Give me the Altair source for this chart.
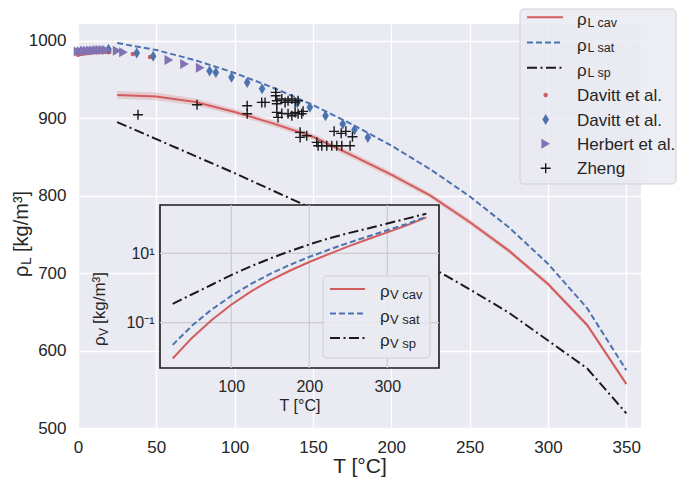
import altair as alt
import pandas as pd

FONT = "Liberation Sans"
TXT = "#262626"
BG = "#eaeaf2"
RED = "#d35c5c"
BLUE = "#4c72b0"
PURPLE = "#8172b3"
BLACK = "#1a1a1a"

# ---------------- data ----------------
T_L = [25, 50, 75, 100, 125, 150, 175, 200, 225, 250, 275, 300, 325, 350]
rhoL_cav = [930, 928, 921, 908, 893, 876, 852, 827, 800, 766, 729, 686, 633, 557]
rhoL_cav_lo = [925, 923, 916.5, 904, 889, 872, 848, 823, 796.5, 762.5, 726, 683, 630, 554]
rhoL_cav_hi = [935, 933, 925.5, 912, 897, 880, 856, 831, 803.5, 769.5, 732, 689, 636, 560]
rhoL_sat = [997.0, 988.0, 974.8, 958.4, 939.0, 917.0, 892.0, 864.7, 833.9, 799.1, 759.2, 712.1, 654.7, 574.7]
rhoL_sp = [895, 873, 851, 829, 806, 783, 759, 734, 708, 679, 649, 613, 577, 519]

davitt_dot_T = [0, 2, 4, 6, 8, 10, 12, 14, 16, 18, 20, 35, 46]
davitt_dot_rho = [982, 983, 983.5, 984, 984.5, 985, 985, 985.5, 985.5, 985.5, 985.5, 983, 979]

davitt_dia_T = [19.5, 37.5, 48, 84, 88, 98, 108, 117.5, 140, 148, 158, 169, 176.5, 185]
davitt_dia_rho = [989, 984, 980, 961, 959, 953, 946, 938, 920, 914, 903, 892.5, 885, 875]

herbert_T = [0, 2, 4, 6, 8, 10, 12, 14, 16, 18, 25, 29, 58, 68, 78]
herbert_rho = [986, 986.5, 987, 987, 987.5, 987.5, 988, 988, 988, 988, 987, 985, 975, 970, 965]

zheng_T = [38.3, 76, 108, 108, 117.3, 119.4, 126.2, 126.2, 126.9, 126.9, 130.1, 132.2, 134.1,
           136.5, 138.6, 140.5, 126.9, 127.7, 130.1, 134.1, 136.5, 138.6, 140.5, 142.8, 143.7,
           141.8, 141.8, 146, 152.4, 153.3, 155.6, 158.8, 162, 165.2, 168.4, 173.7, 163.5, 168,
           171, 175.2]
zheng_rho = [904.5, 917.4, 916, 905.8, 920.4, 920.4, 933.3, 929, 922.6, 918.7, 924.8, 920.4, 922.6,
             924.8, 920.4, 922.6, 907.5, 901, 906.2, 905.8, 903.2, 907.5, 905.8, 905.8, 908.8,
             881.7, 875.2, 877.4, 868.8, 864.5, 864.5, 864.5, 864.5, 864.5, 864.5, 864.5, 883, 880.4,
             883, 876.1]

T_V = [25, 50, 75, 100, 125, 150, 175, 200, 225, 250, 275, 300, 325, 350]
rhoV_cav = [0.0093, 0.037, 0.12, 0.33, 0.79, 1.66, 3.14, 5.6, 9.5, 15.8, 25.3, 40.2, 63.9, 108]
rhoV_sat = [0.023, 0.083, 0.24, 0.59, 1.30, 2.55, 4.62, 7.86, 12.7, 19.97, 30.5, 46.2, 70.2, 113.6]
rhoV_sp = [0.35, 0.66, 1.24, 2.36, 4.2, 7.1, 11.5, 18, 27, 38, 52, 72, 100, 138]

x_ticks = [0, 50, 100, 150, 200, 250, 300, 350]
y_ticks = [500, 600, 700, 800, 900, 1000]
inset_x_ticks = [100, 200, 300]
inset_y_ticks = [0.1, 10]

main_line_labels = [("ρ", "L cav"), ("ρ", "L sat"), ("ρ", "L sp")]
main_marker_labels = ["Davitt et al.", "Davitt et al.", "Herbert et al.", "Zheng"]
inset_line_labels = [("ρ", "V cav"), ("ρ", "V sat"), ("ρ", "V sp")]

# ---------------- layout / style ----------------
W, H = 563, 404
X_DOM = [0, 359.4]
Y_DOM = [500, 1021.6]
IX_DOM = [8.75, 366.25]
IY_DOM = [0.00495, 246.6]
IX_RANGE = [82, 361]
IY_RANGE = [344, 181]

DASH = [6, 3]
DASHDOT = [10, 3.5, 2, 3.5]
DIAMOND = "M0,-1L0.6,0L0,1L-0.6,0Z"
PLUS = "M-1,0L1,0M0,-1L0,1"

one = pd.DataFrame({"_": [0]})

x_main = alt.Scale(domain=X_DOM, nice=False, zero=False)
y_main = alt.Scale(domain=Y_DOM, nice=False, zero=False)
ax_common = dict(grid=True, gridColor="white", gridWidth=1.3, domain=False, ticks=False,
                 labelFont=FONT, labelFontSize=17, labelColor=TXT)
x_axis = alt.Axis(values=x_ticks, title="T [°C]", titleFont=FONT, titleFontSize=21,
                  titleFontWeight="normal", titleColor=TXT, titlePadding=0, labelPadding=11,
                  labelFlush=False, format="d", **ax_common)
y_axis = alt.Axis(values=y_ticks, title=None, labelPadding=12, format="d", **ax_common)


def MX(f):
    return alt.X(f"{f}:Q", scale=x_main, axis=x_axis)


def MY(f):
    return alt.Y(f"{f}:Q", scale=y_main, axis=y_axis)


df_L = pd.DataFrame({"T": T_L, "cav": rhoL_cav, "lo": rhoL_cav_lo, "hi": rhoL_cav_hi,
                     "sat": rhoL_sat, "sp": rhoL_sp})
df_dot = pd.DataFrame({"T": davitt_dot_T, "rho": davitt_dot_rho})
df_dia = pd.DataFrame({"T": davitt_dia_T, "rho": davitt_dia_rho})
df_her = pd.DataFrame({"T": herbert_T, "rho": herbert_rho})
df_zh = pd.DataFrame({"T": zheng_T, "rho": zheng_rho})

band = alt.Chart(df_L).mark_area(color=RED, opacity=0.22).encode(x=MX("T"), y=MY("lo"), y2="hi:Q")
l_cav = alt.Chart(df_L).mark_line(color=RED, strokeWidth=2).encode(x=MX("T"), y=MY("cav"))
l_sat = alt.Chart(df_L).mark_line(color=BLUE, strokeWidth=2, strokeDash=DASH).encode(x=MX("T"), y=MY("sat"))
l_sp = alt.Chart(df_L).mark_line(color=BLACK, strokeWidth=2, strokeDash=DASHDOT).encode(x=MX("T"), y=MY("sp"))

dot_style = dict(filled=True, shape="circle", size=20, color=RED, opacity=1)
dia_style = dict(filled=True, shape=DIAMOND, size=121, color=BLUE, opacity=1)
her_style = dict(filled=True, shape="triangle-right", size=100, color=PURPLE, opacity=1)
zh_style = dict(filled=False, shape=PLUS, size=100, color=BLACK, strokeWidth=1.4, opacity=1)

p_dot = alt.Chart(df_dot).mark_point(**dot_style).encode(x=MX("T"), y=MY("rho"))
p_dia = alt.Chart(df_dia).mark_point(**dia_style).encode(x=MX("T"), y=MY("rho"))
p_her = alt.Chart(df_her).mark_point(**her_style).encode(x=MX("T"), y=MY("rho"))
p_zh = alt.Chart(df_zh).mark_point(**zh_style).encode(x=MX("T"), y=MY("rho"))

main = alt.layer(band, l_cav, l_sat, l_sp, p_dot, p_dia, p_her, p_zh)

# ---------------- inset ----------------
x_in = alt.Scale(domain=IX_DOM, range=IX_RANGE, nice=False, zero=False)
y_in = alt.Scale(type="log", domain=IY_DOM, range=IY_RANGE, nice=False)
xin_axis = alt.Axis(orient="bottom", offset=-(H - IY_RANGE[0]), values=inset_x_ticks, grid=False,
                    domain=False, ticks=False, labelFont=FONT, labelFontSize=16, labelColor=TXT,
                    labelPadding=10, labelFlush=False, title="T [°C]", titleFont=FONT,
                    titleFontSize=16, titleFontWeight="normal", titleColor=TXT, titlePadding=3)
yin_axis = alt.Axis(orient="left", offset=-IX_RANGE[0], values=inset_y_ticks, grid=False,
                    domain=False, ticks=False, labelFont=FONT, labelFontSize=16, labelColor=TXT,
                    labelPadding=6, labelExpr="datum.value >= 1 ? '10¹' : '10⁻¹'", title=None)


def IX(f):
    return alt.X(f"{f}:Q", scale=x_in, axis=xin_axis)


def IY(f):
    return alt.Y(f"{f}:Q", scale=y_in, axis=yin_axis)


df_V = pd.DataFrame({"T": T_V, "cav": rhoV_cav, "sat": rhoV_sat, "sp": rhoV_sp})
in_rect = alt.Chart(one).mark_rect(fill=BG, stroke=BLACK, strokeWidth=1.6).encode(
    x=alt.X(datum=IX_DOM[0], type="quantitative", scale=x_in, axis=xin_axis),
    x2=alt.X2(datum=IX_DOM[1]),
    y=alt.Y(datum=IY_DOM[0], type="quantitative", scale=y_in, axis=yin_axis),
    y2=alt.Y2(datum=IY_DOM[1]))
in_gx = alt.Chart(pd.DataFrame({"T": inset_x_ticks})).mark_rule(color="#cacad0", strokeWidth=1.2).encode(
    x=IX("T"), y=alt.Y(datum=IY_DOM[0], type="quantitative", scale=y_in, axis=yin_axis),
    y2=alt.Y2(datum=IY_DOM[1]))
in_gy = alt.Chart(pd.DataFrame({"v": inset_y_ticks})).mark_rule(color="#cacad0", strokeWidth=1.2).encode(
    y=IY("v"), x=alt.X(datum=IX_DOM[0], type="quantitative", scale=x_in, axis=xin_axis),
    x2=alt.X2(datum=IX_DOM[1]))
i_cav = alt.Chart(df_V).mark_line(color=RED, strokeWidth=2).encode(x=IX("T"), y=IY("cav"))
i_sat = alt.Chart(df_V).mark_line(color=BLUE, strokeWidth=2, strokeDash=DASH).encode(x=IX("T"), y=IY("sat"))
i_sp = alt.Chart(df_V).mark_line(color=BLACK, strokeWidth=2, strokeDash=DASHDOT).encode(x=IX("T"), y=IY("sp"))
inset = alt.layer(in_rect, in_gx, in_gy, i_cav, i_sat, i_sp)

# ---------------- legends, rich-text titles ----------------


def txt(s, x, y, size, angle=0, align="left", color=TXT):
    return alt.Chart(one).mark_text(text=s, font=FONT, fontSize=size, angle=angle, align=align,
                                    baseline="alphabetic", color=color).encode(
        x=alt.value(x), y=alt.value(y))


def box(x0, x1, y0, y1):
    return alt.Chart(one).mark_rect(fill=BG, fillOpacity=0.85, stroke="#cfcfd4", strokeWidth=1,
                                    cornerRadius=4).encode(
        x=alt.value(x0), x2=alt.value(x1), y=alt.value(y0), y2=alt.value(y1))


def seg(x0, x1, y, color, dash=None):
    kw = dict(color=color, strokeWidth=2)
    if dash:
        kw["strokeDash"] = dash
    return alt.Chart(one).mark_rule(**kw).encode(x=alt.value(x0), x2=alt.value(x1), y=alt.value(y))


def sym(x, y, style):
    return alt.Chart(one).mark_point(**style).encode(x=alt.value(x), y=alt.value(y))


deco = []
# main legend
deco.append(box(442, 598, -15, 160))
line_cols = [(RED, None), (BLUE, DASH), (BLACK, DASHDOT)]
for i, ((g, sub), (c, d)) in enumerate(zip(main_line_labels, line_cols)):
    yy = -6.7 + 25.2 * i
    deco.append(seg(449, 485, yy, c, d))
    deco.append(txt(g, 499, yy + 8, 17))
    deco.append(txt(sub, 509.5, yy + 9.5, 12.5))
for i, (lab, st) in enumerate(zip(main_marker_labels, [dot_style, dia_style, her_style, zh_style])):
    yy = 71 + 24.4 * i
    deco.append(sym(467.7, yy, st))
    deco.append(txt(lab, 499, yy + 6.2, 17))
# inset legend
deco.append(box(245, 352, 252, 334))
for i, ((g, sub), (c, d)) in enumerate(zip(inset_line_labels, line_cols)):
    yy = 265 + 24.5 * i
    deco.append(seg(252, 287, yy, c, d))
    deco.append(txt(g, 302, yy + 8, 17))
    deco.append(txt(sub, 312, yy + 10, 13))
# main y title  (rho_L [kg/m^3]) -- rotated, read bottom to top
deco.append(txt("ρ", -50, 253, 20, angle=270))
deco.append(txt("L", -47, 241, 14, angle=270))
deco.append(txt("[kg/m³]", -50, 228, 20, angle=270))
# inset y title  (rho_V [kg/m^3])
deco.append(txt("ρ", 27, 322, 17, angle=270))
deco.append(txt("V", 30, 312, 12, angle=270))
deco.append(txt("[kg/m³]", 27, 300, 17, angle=270))

decor = alt.layer(*deco)

chart = alt.layer(main, inset, decor).resolve_scale(x="independent", y="independent").properties(
    width=W, height=H,
    padding={"left": 70, "top": 16, "right": 36, "bottom": 51},
    autosize=alt.AutoSizeParams(type="none"),
).configure_view(fill=BG, stroke=None)

chart.save("out.html", embed_options={"renderer": "svg", "actions": False})
